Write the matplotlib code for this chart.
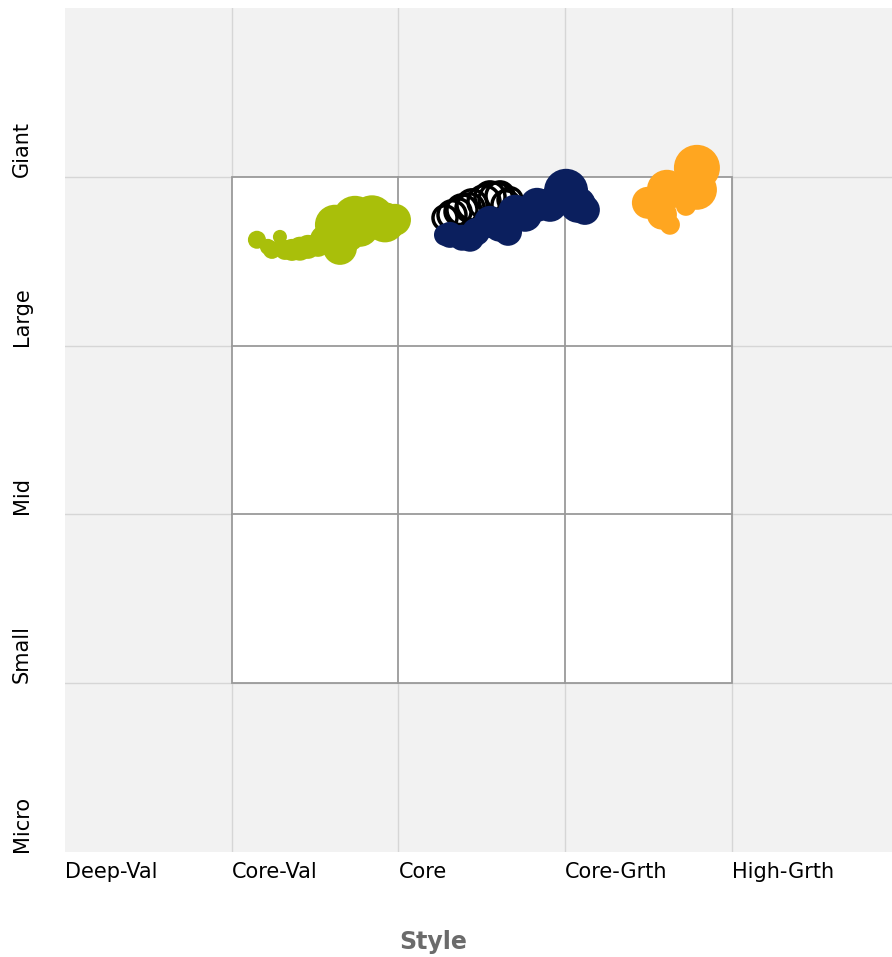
import numpy as np
import matplotlib.pyplot as plt
from matplotlib.patches import Rectangle

# style box: columns / rows
styles = ["Deep-Val", "Core-Val", "Core", "Core-Grth", "High-Grth"]
sizes_cap = ["Micro", "Small", "Mid", "Large", "Giant"]

# green series (x = style score, y = size score, r = bubble radius in px)
green_x = [1.151, 1.217, 1.241, 1.289, 1.319, 1.361, 1.409, 1.457, 1.517, 1.559,
           1.649, 1.619, 1.697, 1.739, 1.769, 1.841, 1.919, 1.979]
green_y = [3.627, 3.585, 3.567, 3.644, 3.567, 3.567, 3.574, 3.585, 3.597, 3.627,
           3.579, 3.716, 3.656, 3.757, 3.698, 3.760, 3.730, 3.745]
green_r = [9, 8, 9, 7, 10, 11, 12, 12, 12, 15, 17, 20, 17, 22, 19, 22, 20, 16]

# black outline series
black_x = [2.279, 2.321, 2.357, 2.381, 2.429, 2.441, 2.513, 2.549, 2.585, 2.609, 2.645, 2.669]
black_y = [3.757, 3.775, 3.793, 3.804, 3.816, 3.834, 3.852, 3.881, 3.864, 3.887, 3.834, 3.864]
black_r = [12, 14, 13, 15, 14, 15, 16, 15, 17, 14, 14, 12]

# navy series
navy_x = [2.279, 2.309, 2.381, 2.429, 2.465, 2.549, 2.609, 2.657, 2.699, 2.759,
          2.831, 2.909, 3.005, 3.076, 3.118]
navy_y = [3.656, 3.656, 3.639, 3.639, 3.674, 3.733, 3.716, 3.674, 3.793, 3.775,
          3.834, 3.834, 3.917, 3.834, 3.804]
navy_r = [11, 13, 13, 14, 14, 16, 17, 14, 17, 17, 17, 17, 22, 18, 15]

# orange series
orange_x = [3.790, 3.790, 3.610, 3.496, 3.580, 3.628, 3.724]
orange_y = [4.053, 3.923, 3.923, 3.846, 3.776, 3.716, 3.828]
orange_r = [23, 20, 20, 16, 15, 10, 10]

DPI = 100


def px_to_s(r):
    # radius in pixels -> scatter area in points^2
    d = 2 * np.asarray(r) * 72.0 / DPI
    return d ** 2


fig = plt.figure(figsize=(8.92, 9.57), dpi=DPI)
ax = fig.add_axes([65 / 892, 105 / 957, 827 / 892, 844 / 957])
ax.set_facecolor("#f2f2f2")
ax.set_xlim(0, 4.96)
ax.set_ylim(0, 5.0)

for k in range(1, 5):
    ax.axvline(k, color="#d6d6d6", lw=1, zorder=0)
    ax.axhline(k, color="#d6d6d6", lw=1, zorder=0)

# white 3x3 box
ax.add_patch(Rectangle((1, 1), 3, 3, facecolor="white", edgecolor="#9a9a9a", lw=1.3, zorder=1))
for k in (2, 3):
    ax.plot([k, k], [1, 4], color="#9a9a9a", lw=1.3, zorder=1)
    ax.plot([1, 4], [k, k], color="#9a9a9a", lw=1.3, zorder=1)

ax.scatter(green_x, green_y, s=px_to_s(green_r), color="#a9bf0a", lw=0, zorder=3)
ax.scatter(black_x, black_y, s=px_to_s(black_r), facecolors="none", edgecolors="black", lw=2.5, zorder=3)
ax.scatter(navy_x, navy_y, s=px_to_s(navy_r), color="#0b1f5e", lw=0, zorder=4)
ax.scatter(orange_x, orange_y, s=px_to_s(orange_r), color="#ffa620", lw=0, zorder=3)

for sp in ax.spines.values():
    sp.set_visible(False)

ax.set_xticks(range(5))
ax.set_xticklabels(styles, ha="left", fontsize=15)
ax.set_yticks(range(5))
ax.set_yticklabels(sizes_cap, rotation=90, va="bottom", ha="center", fontsize=15)
ax.tick_params(axis="x", length=0, pad=7)
ax.tick_params(axis="y", length=0, pad=31)

fig.text(433 / 892, 1 - 942 / 957, "Style", ha="center", va="center",
         fontsize=17, fontweight="bold", color="#6b6b6b")

fig.savefig("out.png", dpi=DPI)
